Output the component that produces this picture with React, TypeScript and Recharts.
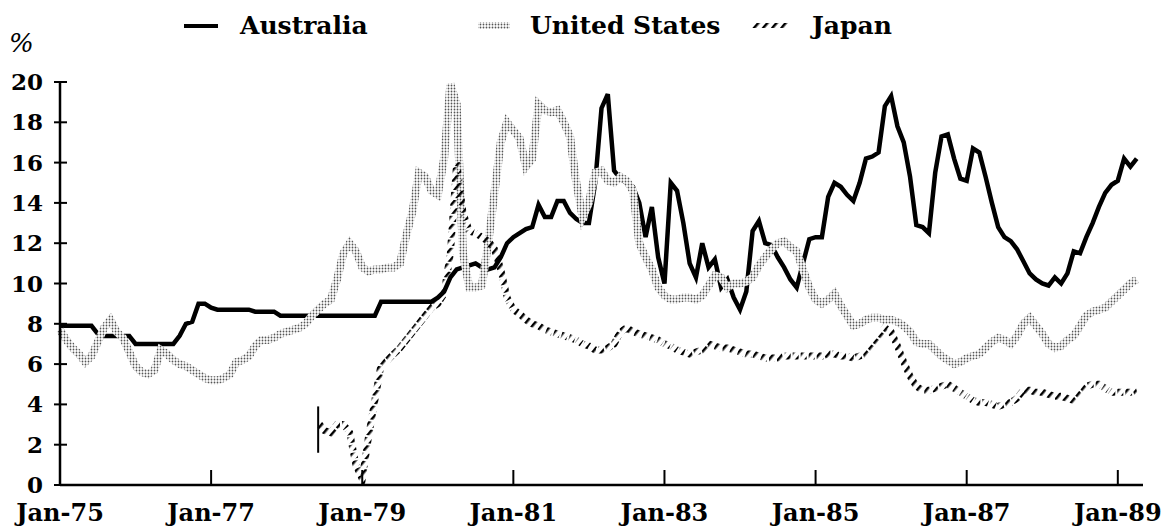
import React from 'react';
import { LineChart, Line, XAxis, YAxis, ReferenceLine } from 'recharts';

// monthly rates, Jan-75 .. Apr-89
const tickLabels = ['Jan-75', 'Jan-77', 'Jan-79', 'Jan-81', 'Jan-83', 'Jan-85', 'Jan-87', 'Jan-89'];
const yTicks = [0, 2, 4, 6, 8, 10, 12, 14, 16, 18, 20];

const australia = [
  7.9, 7.9, 7.9, 7.9, 7.9, 7.9, 7.5, 7.4, 7.4, 7.4, 7.4, 7.4,
  7.0, 7.0, 7.0, 7.0, 7.0, 7.0, 7.0, 7.4, 8.0, 8.1, 9.0, 9.0,
  8.8, 8.7, 8.7, 8.7, 8.7, 8.7, 8.7, 8.6, 8.6, 8.6, 8.6, 8.4,
  8.4, 8.4, 8.4, 8.4, 8.4, 8.4, 8.4, 8.4, 8.4, 8.4, 8.4, 8.4,
  8.4, 8.4, 8.4, 9.1, 9.1, 9.1, 9.1, 9.1, 9.1, 9.1, 9.1, 9.1,
  9.3, 9.6, 10.3, 10.7, 10.8, 10.9, 11.0, 10.8, 10.7, 10.8, 11.3, 12.0,
  12.3, 12.5, 12.7, 12.8, 13.9, 13.3, 13.3, 14.1, 14.1, 13.5, 13.2, 13.0,
  13.0, 15.0, 18.7, 19.4, 15.6, 15.2, 15.0, 14.8, 14.0, 12.3, 13.8, 11.3,
  10.0, 15.0, 14.6, 13.0, 11.0, 10.3, 12.0, 10.8, 11.2, 9.8, 10.2, 9.3,
  8.7, 9.6, 12.6, 13.1, 12.0, 11.9, 11.3, 10.8, 10.2, 9.8, 11.0, 12.2,
  12.3, 12.3, 14.3, 15.0, 14.8, 14.4, 14.1, 15.0, 16.2, 16.3, 16.5, 18.8,
  19.3, 17.8, 17.0, 15.3, 12.9, 12.8, 12.5, 15.5, 17.3, 17.4, 16.2, 15.2,
  15.1, 16.7, 16.5, 15.3, 14.0, 12.8, 12.3, 12.1, 11.7, 11.1, 10.5, 10.2,
  10.0, 9.9, 10.3, 10.0, 10.5, 11.6, 11.5, 12.3, 13.0, 13.8, 14.5, 14.9,
  15.1, 16.2, 15.8, 16.2,
];

const unitedStates = [
  7.7, 7.2, 6.8, 6.5, 6.1, 6.4, 7.1, 7.8, 8.2, 7.6, 7.3, 6.6,
  5.9, 5.6, 5.5, 5.7, 6.7, 6.5, 6.2, 6.0, 5.9, 5.7, 5.5, 5.3,
  5.2, 5.2, 5.3, 5.5, 6.1, 6.2, 6.4, 6.9, 7.2, 7.2, 7.3, 7.5,
  7.6, 7.7, 7.8, 8.0, 8.4, 8.7, 9.0, 9.2, 10.2, 11.5, 12.0, 11.6,
  10.8, 10.6, 10.7, 10.7, 10.8, 10.8, 11.0, 12.4, 13.6, 15.5, 15.3, 14.6,
  14.4, 16.2, 19.9, 18.9, 11.5, 9.8, 9.8, 9.9, 12.0, 14.5, 17.0, 18.0,
  17.6, 17.2, 15.8, 16.2, 18.9, 18.6, 18.5, 18.6, 18.0, 17.3, 15.0, 13.3,
  14.0, 15.5, 15.6, 15.1, 15.0, 15.3, 15.1, 14.6, 12.0, 11.3, 10.7, 9.8,
  9.4, 9.2, 9.2, 9.3, 9.3, 9.2, 9.4, 9.9, 10.4, 10.3, 9.8, 10.0,
  10.0, 10.1, 10.3, 10.9, 11.3, 11.7, 12.0, 12.1, 11.8, 11.6, 10.7, 9.8,
  9.2, 9.0, 9.2, 9.5, 8.9, 8.4, 7.9, 8.0, 8.2, 8.3, 8.3, 8.2,
  8.2, 8.1, 7.9, 7.6, 7.1, 7.0, 7.0, 6.7, 6.4, 6.2, 6.0, 6.1,
  6.3, 6.4, 6.5, 6.8, 7.1, 7.3, 7.2, 7.0, 7.4, 8.0, 8.3, 7.9,
  7.5, 7.0, 6.8, 6.9, 7.2, 7.4, 7.9, 8.4, 8.6, 8.7, 8.8, 9.1,
  9.4, 9.7, 10.0, 10.2,
];

// Japan series begins in Jun-78
const japanStartMonth = 41;
const japan = [
  3.1, 2.7, 2.6, 3.0, 3.0, 2.6, 1.0,
  0.3, 2.4, 4.2, 6.0, 6.2, 6.5, 6.8, 7.2, 7.6, 8.0, 8.4, 8.8,
  9.0, 9.5, 11.5, 16.0, 13.5, 12.6, 12.5, 12.3, 12.1, 11.7, 10.7, 9.3,
  8.7, 8.5, 8.2, 8.0, 7.9, 7.7, 7.6, 7.5, 7.4, 7.3, 7.2, 7.0,
  6.9, 6.7, 6.7, 6.8, 7.0, 7.6, 7.8, 7.6, 7.5, 7.4, 7.3, 7.2,
  7.0, 6.9, 6.7, 6.6, 6.5, 6.6, 6.7, 7.0, 6.9, 6.8, 6.8, 6.7,
  6.6, 6.5, 6.5, 6.4, 6.3, 6.3, 6.3, 6.4, 6.4, 6.4, 6.4, 6.4,
  6.4, 6.4, 6.5, 6.5, 6.4, 6.4, 6.3, 6.4, 6.5, 6.8, 7.3, 7.8,
  7.6, 6.9, 6.1, 5.4, 4.9, 4.7, 4.7, 4.8, 4.9, 5.0, 4.8, 4.6,
  4.4, 4.2, 4.1, 4.1, 4.0, 3.9, 4.0, 4.1, 4.3, 4.7, 4.7, 4.6,
  4.6, 4.5, 4.4, 4.4, 4.3, 4.2, 4.6, 4.9, 5.0, 5.0, 4.8, 4.6,
  4.6, 4.6, 4.6, 4.7,
];
const japanBreak = [1.6, 3.9];

const data = australia.map((v, i) => ({
  month: i,
  australia: v,
  us: unitedStates[i],
  japan: i >= japanStartMonth ? japan[i - japanStartMonth] : null,
}));

const serif = '"DejaVu Serif", serif';

function XTick({ x, y, payload }: any) {
  const v = payload.value;
  return (
    <g>
      {v > 0 && <line x1={x} x2={x} y1={y} y2={y - 15} stroke="#000" strokeWidth={2} />}
      <text x={x} y={y + 36} textAnchor="middle" fontFamily={serif} fontWeight="bold" fontSize={24} fill="#000">
        {tickLabels[v / 24]}
      </text>
    </g>
  );
}

function YTick({ x, y, payload }: any) {
  return (
    <g>
      <line x1={x - 6} x2={x + 7} y1={y} y2={y} stroke="#000" strokeWidth={2} />
      <text x={x - 17} y={y + 8} textAnchor="end" fontFamily={serif} fontWeight="bold" fontSize={23} fill="#000">
        {payload.value}
      </text>
    </g>
  );
}

function Swatch({ kind }: { kind: string }) {
  return (
    <svg width={40} height={12} style={{ display: 'block' }}>
      <defs>
        <pattern id={'lg-dots'} patternUnits="userSpaceOnUse" width={3} height={3}>
          <rect width={3} height={3} fill="#fff" />
          <circle cx={1.5} cy={1.5} r={0.9} fill="#555" />
        </pattern>
        <pattern id={'lg-hatch'} patternUnits="userSpaceOnUse" width={7} height={10} patternTransform="rotate(40)">
          <rect width={2.5} height={10} fill="#000" />
        </pattern>
      </defs>
      {kind === 'aus' && <rect x={2} y={4} width={34} height={4} fill="#000" />}
      {kind === 'us' && <rect x={2} y={2} width={32} height={7} fill="url(#lg-dots)" />}
      {kind === 'jp' && <rect x={2} y={3} width={36} height={5} fill="url(#lg-hatch)" />}
    </svg>
  );
}

const legendText: React.CSSProperties = {
  fontFamily: serif,
  fontWeight: 'bold',
  fontSize: 25,
  color: '#000',
  whiteSpace: 'nowrap',
};

export default function App() {
  return (
    <div style={{ position: 'absolute', left: 0, top: 0, width: 1173, height: 530, background: '#fff' }}>
      <div style={{ position: 'absolute', left: 182, top: 11, display: 'flex', alignItems: 'center' }}>
        <Swatch kind="aus" />
        <span style={{ ...legendText, marginLeft: 18 }}>Australia</span>
      </div>
      <div style={{ position: 'absolute', left: 476, top: 11, display: 'flex', alignItems: 'center' }}>
        <Swatch kind="us" />
        <span style={{ ...legendText, marginLeft: 14 }}>United States</span>
      </div>
      <div style={{ position: 'absolute', left: 750, top: 11, display: 'flex', alignItems: 'center' }}>
        <Swatch kind="jp" />
        <span style={{ ...legendText, marginLeft: 22 }}>Japan</span>
      </div>
      <div style={{ position: 'absolute', left: 9, top: 28, fontFamily: serif, fontStyle: 'italic', fontSize: 26 }}>%</div>

      <LineChart
        width={1173}
        height={530}
        data={data}
        margin={{ top: 82, right: 30, bottom: 10, left: 10 }}
      >
        <defs>
          <pattern id="dots" patternUnits="userSpaceOnUse" width={3} height={3}>
            <rect width={3} height={3} fill="#fff" />
            <circle cx={1.5} cy={1.5} r={0.9} fill="#555" />
          </pattern>
          <pattern id="hatch" patternUnits="userSpaceOnUse" width={7} height={10} patternTransform="rotate(40)">
            <rect width={2.5} height={10} fill="#000" />
          </pattern>
        </defs>
        <XAxis
          dataKey="month"
          type="number"
          domain={[0, 172]}
          ticks={tickLabels.map((_, i) => i * 24)}
          tick={(p: any) => <XTick {...p} />}
          tickLine={false}
          tickSize={0}
          tickMargin={0}
          height={35}
          axisLine={{ stroke: '#000', strokeWidth: 2.5 }}
        />
        <YAxis
          type="number"
          domain={[0, 20]}
          ticks={yTicks}
          tick={(p: any) => <YTick {...p} />}
          tickLine={false}
          tickSize={0}
          tickMargin={0}
          width={50}
          axisLine={{ stroke: '#000', strokeWidth: 2.5 }}
          allowDataOverflow
        />
        <Line
          type="linear"
          dataKey="australia"
          stroke="#000"
          strokeWidth={4.5}
          dot={false}
          isAnimationActive={false}
        />
        <Line
          type="linear"
          dataKey="us"
          stroke="url(#dots)"
          strokeWidth={8}
          dot={false}
          isAnimationActive={false}
        />
        <Line
          type="linear"
          dataKey="japan"
          stroke="url(#hatch)"
          strokeWidth={7}
          strokeDasharray="6 2"
          dot={false}
          connectNulls={false}
          isAnimationActive={false}
        />
        <ReferenceLine
          segment={[{ x: japanStartMonth, y: japanBreak[0] }, { x: japanStartMonth, y: japanBreak[1] }]}
          stroke="#000"
          strokeWidth={2}
        />
      </LineChart>
    </div>
  );
}
